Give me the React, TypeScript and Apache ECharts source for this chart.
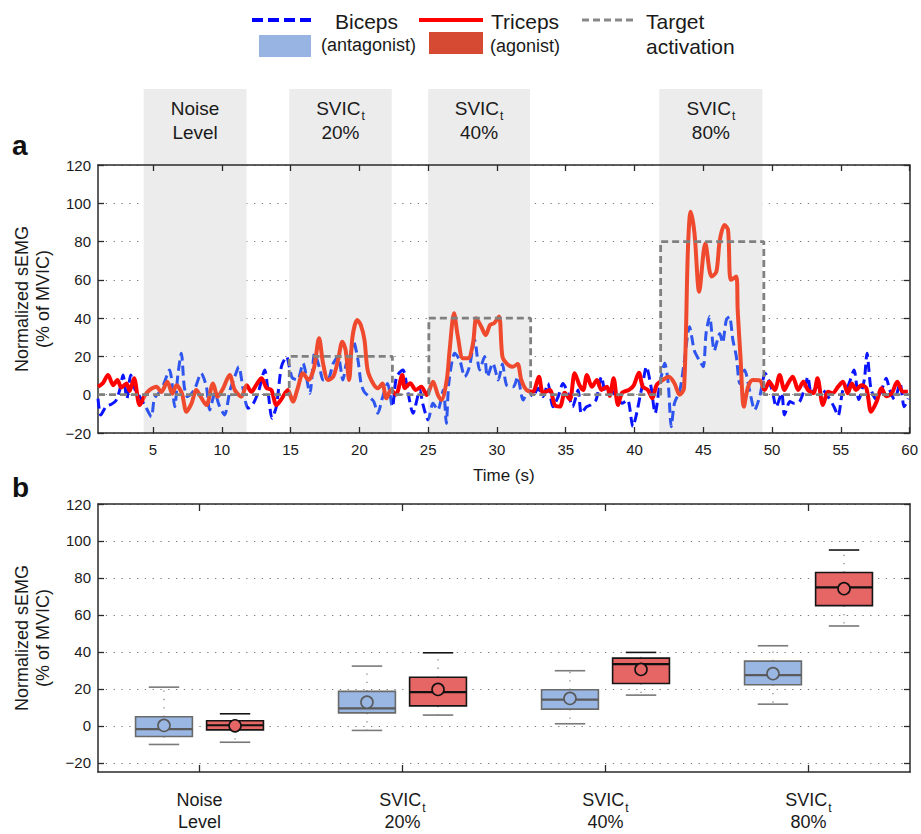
import React, { useEffect, useRef } from 'react';
import * as echarts from 'echarts';

// ---------- DATA ----------
const regionStart = [4.32, 14.9, 25.0, 41.8];
const regionEnd = [11.8, 22.35, 32.4, 49.3];
const labelLine1 = ['Noise', 'SVIC', 'SVIC', 'SVIC'];
const labelSub = ['', 't', 't', 't'];
const labelLine2 = ['Level', '20%', '40%', '80%'];

const targetX = [1, 14.9, 14.9, 22.4, 22.4, 25.05, 25.05, 32.45, 32.45, 41.9, 41.9, 49.4, 49.4, 60];
const targetY = [0, 0, 20, 20, 0, 0, 40, 40, 0, 0, 80, 80, 0, 0];

const tricepsX = [1.0, 1.35, 1.73, 2.1, 2.41, 2.7, 3.07, 3.3, 3.62, 4.03, 4.4, 4.76, 5.25, 5.6, 6.04, 6.4, 6.7, 7.1, 7.43, 7.8, 8.15, 8.46, 8.88, 9.36, 9.7, 10.1, 10.57, 10.94, 11.42, 11.8, 12.15, 12.5, 12.88, 13.25, 13.6, 13.97, 14.3, 14.8, 15.17, 15.5, 15.9, 16.3, 16.7, 17.07, 17.36, 17.72, 18.1, 18.45, 18.76, 19.0, 19.25, 19.5, 19.85, 20.1, 20.37, 20.6, 21.0, 21.35, 21.67, 21.96, 22.3, 22.65, 23.12, 23.3, 23.7, 24.1, 24.5, 24.9, 25.35, 25.7, 25.96, 26.35, 26.56, 26.88, 27.16, 27.53, 27.9, 28.26, 28.5, 28.86, 29.18, 29.5, 29.8, 30.15, 30.4, 30.75, 31.16, 31.5, 31.77, 32.14, 32.6, 33.05, 33.35, 33.84, 34.2, 34.57, 34.93, 35.3, 35.65, 36.0, 36.27, 36.54, 36.9, 37.27, 37.6, 38.0, 38.2, 38.48, 38.8, 39.1, 39.6, 39.95, 40.32, 40.6, 40.97, 41.3, 41.6, 42.06, 42.5, 42.9, 43.28, 43.6, 43.88, 44.08, 44.36, 44.7, 45.15, 45.6, 45.95, 46.2, 46.55, 46.8, 47.0, 47.4, 47.5, 47.7, 47.95, 48.25, 48.6, 49.1, 49.45, 49.8, 50.2, 50.55, 50.9, 51.16, 51.5, 51.9, 52.27, 52.6, 53.0, 53.3, 53.7, 54.07, 54.4, 54.8, 55.15, 55.5, 55.8, 56.1, 56.5, 56.85, 57.2, 57.6, 57.96, 58.3, 58.7, 59.1, 59.5, 59.87];
const tricepsY = [4.2, 6, 10.3, 5, 7.7, 3.8, 5.9, 2, 8.6, -5.4, -0.5, 2.5, 4.2, 1.4, 6.8, 0.5, 5, 0.6, -8.9, -4.5, 2.4, -1, -5.4, 5.9, -1, 3.4, 10.3, 2.5, -1, 4.9, 1.5, 5, 8.6, 3.5, 2.5, -5.4, -2.7, 2.5, -3.6, 3, 11.2, 7.7, 14, 29.5, 16.4, 7.7, 9.4, 18.1, 27.7, 23.3, 7.7, 30.3, 39, 36.5, 28.6, 12.9, 5.9, 3.4, 5.9, -1.9, 2.5, 0, 10.3, 3.4, 6, 2.5, 4.2, -0.2, 6.8, 0, -2.8, 7.7, 23.3, 42.5, 30.3, 19, 19, 26.9, 39.9, 35.5, 31.2, 36.5, 37.4, 40.8, 19.9, 16, 14.6, 16, 7.7, 2.5, 1.5, 9.4, 1, 2.5, -5.4, -6.2, 1, -2.5, 11.2, 5, 2.5, 10.3, 4.2, 7.7, 2.5, 4.2, -0.6, 8.6, -5.4, 1, 2.5, 5, 11.5, 4.2, 2.5, -1.9, 5, 7.7, 9.4, 6, 0, 3.4, 75.6, 95.6, 84.3, 53.8, 79.1, 61.7, 64.3, 80.8, 88.7, 86, 60, 61.7, 44, 20, -6.3, 4, 7.7, 7.5, 2.5, 6.8, 2.5, 10.3, 2.5, 5.9, 9.4, 2.5, 6.8, 2.5, 0.8, 8.6, -5.4, 1.5, 0.8, 4.2, 6.8, 0.8, 5.9, 2.5, 5, 3.4, -8.9, -3.6, 3.4, -0.8, 0.8, 6.8, 1.5, 1.5];

const bicepsX = [1.0, 1.2, 1.6, 1.97, 2.3, 2.58, 2.82, 3.1, 3.38, 3.7, 4.03, 4.4, 4.88, 5.1, 5.6, 6.2, 6.58, 6.8, 7.06, 7.27, 7.5, 8.0, 8.5, 8.88, 9.12, 9.5, 9.8, 10.2, 10.6, 10.94, 11.23, 11.56, 11.9, 12.3, 12.7, 13.12, 13.35, 13.65, 13.97, 14.33, 14.7, 15.1, 15.5, 15.9, 16.4, 16.75, 17.15, 17.36, 17.7, 18.1, 18.45, 18.8, 19.05, 19.3, 19.58, 19.9, 20.12, 20.35, 20.7, 21.05, 21.34, 21.7, 22.05, 22.4, 22.7, 23.17, 23.5, 23.9, 24.4, 24.6, 25.0, 25.35, 25.7, 26.1, 26.32, 26.5, 26.93, 27.3, 27.66, 28.0, 28.38, 28.74, 29.1, 29.3, 29.7, 30.1, 30.4, 30.7, 31.2, 31.5, 31.9, 32.3, 32.6, 33.0, 33.35, 33.7, 34.07, 34.45, 34.8, 35.2, 35.5, 35.9, 36.13, 36.5, 36.8, 37.2, 37.6, 37.9, 38.3, 38.65, 39.1, 39.5, 39.88, 40.1, 40.4, 40.6, 40.86, 41.2, 41.5, 41.85, 42.2, 42.45, 42.67, 42.9, 43.3, 43.6, 44.0, 44.35, 44.7, 45.0, 45.2, 45.46, 45.8, 46.2, 46.4, 46.67, 46.9, 47.15, 47.4, 47.65, 48.0, 48.4, 48.73, 49.1, 49.5, 50.0, 50.3, 50.7, 50.9, 51.3, 51.6, 52.0, 52.4, 52.6, 52.85, 53.3, 53.7, 54.07, 54.5, 54.8, 55.15, 55.5, 55.96, 56.3, 56.7, 56.9, 57.2, 57.6, 57.96, 58.3, 58.55, 58.9, 59.3, 59.6, 59.9];
const bicepsY = [-2, -10.6, -6, -5, -3.2, 2.5, 10.3, -2, 10.3, 2.5, -1, -5.4, -11.5, -2, 2.5, 12.9, -6.3, 10, 21.6, 4.2, -1, 2.5, 11.2, 4.2, -8, 0.8, -5.4, -10.6, 2.5, 9.4, 14.6, 2.5, -7.1, -4.5, 2.5, 12.9, 2.5, -12.3, -6, 14.6, 19.9, 9, 7.7, 16.4, 0.7, 21.6, 12.9, 7.7, 7.7, 16.4, 19.9, 7.7, 16.4, 19.9, 27.7, 18, 5.9, 1.5, -1, -3.6, -9.7, -1, 5.9, -6.3, 9.4, 12.9, 2.5, -9.7, 2.5, -4.5, -13.2, -4.5, -8, 2.5, -15, 6, 21.6, 18, 9.4, 14.6, 28.6, 12.9, 19.9, 9.4, 16.4, 7.7, 16, 5, 4.2, 9.4, -2.8, 2.5, -1, 3.4, -1, 5.9, -6.3, -1, 5.9, 0, -6.3, 2.5, -9.7, -6.3, -5.4, -2.8, 9.4, 1, 2.5, -1, -4.5, -2.8, -16.7, -11.5, -1, 5.9, 14.6, 4.2, -9.7, 5.9, 16.4, 5.9, -16.7, -4.5, 2.5, 16.4, 35.5, 23, 18, 14.6, 32, 40.8, 23, 32, 27, 39, 40.8, 28.6, 20, 5.9, 12.9, 1, -8, -1, 11.2, 2.5, -6.3, 0.8, -10.6, -3.6, -4.5, -3.6, 4.2, 9.4, 0.8, 4.2, 2.5, -1, -6.3, -11, 2.5, 4.2, 12.9, -2.5, 7.7, 21.6, 2.5, -2.5, 2.5, 8.6, 2.5, -2.5, 5.9, -6.3, -2];

const xTicksA = [5, 10, 15, 20, 25, 30, 35, 40, 45, 50, 55, 60];
const yTicksB = [-20, 0, 20, 40, 60, 80, 100, 120];

const bicepsLow = [-10.1, -2.5, 1.1, 11.7];
const bicepsQ1 = [-5.8, 7.0, 9.0, 22.2];
const bicepsMed = [-1.8, 9.4, 14.2, 27.4];
const bicepsQ3 = [4.9, 18.6, 19.5, 35.0];
const bicepsHigh = [20.9, 32.3, 29.8, 43.3];
const bicepsMean = [0.2, 12.8, 14.8, 28.2];

const tricepsLow = [-8.9, 5.8, 16.6, 54.0];
const tricepsQ1 = [-2.2, 10.8, 22.9, 65.0];
const tricepsMed = [0.3, 18.2, 33.4, 74.9];
const tricepsQ3 = [2.7, 26.3, 36.6, 82.9];
const tricepsHigh = [6.5, 39.5, 39.7, 95.1];
const tricepsMean = [0.0, 19.7, 30.5, 74.2];

// ---------- STYLE ----------
const FF = "'Liberation Sans', Arial, Helvetica, sans-serif";
const TXT = '#1a1a1a';
const AXC = '#2a2a2a';
const RED_OUT = '#ff0000';
const RED_IN = '#ef4a2e';
const BLUE_OUT = '#0a14ff';
const BLUE_IN = '#2e55ee';
const SHADE = '#ececec';

function buildPieces(outC: string, inC: string) {
  const pieces: any[] = [{ lt: regionStart[0], color: outC }];
  regionStart.forEach((s, i) => {
    pieces.push({ gte: s, lt: regionEnd[i], color: inC });
    if (i < regionStart.length - 1) pieces.push({ gte: regionEnd[i], lt: regionStart[i + 1], color: outC });
    else pieces.push({ gte: regionEnd[i], color: outC });
  });
  return pieces;
}

const zip = (xs: number[], ys: number[]) => xs.map((x, i) => [x, ys[i]]);
const minus = (v: number) => (v < 0 ? '\u2212' + Math.abs(v) : String(v));

let measureCtx: CanvasRenderingContext2D | null = null;
function textWidth(t: string, font: string) {
  if (!measureCtx) measureCtx = document.createElement('canvas').getContext('2d');
  if (!measureCtx) return t.length * 10;
  measureCtx.font = font;
  return measureCtx.measureText(t).width;
}

// two-line label with optional subscript, centred at cx
function labelElements(i: number, cx: number, y1: number, y2: number, size: number) {
  const fontM = `${size}px ${FF}`;
  const fontS = `${Math.round(size * 0.64)}px ${FF}`;
  const els: any[] = [];
  if (labelSub[i]) {
    const wM = textWidth(labelLine1[i], fontM);
    const wS = textWidth(labelSub[i], fontS);
    const x0 = cx - (wM + wS + 1) / 2;
    els.push({ type: 'text', style: { text: labelLine1[i], x: x0, y: y1, font: fontM, fill: TXT, align: 'left', verticalAlign: 'middle' } });
    els.push({ type: 'text', style: { text: labelSub[i], x: x0 + wM + 1, y: y1 + size * 0.42, font: fontS, fill: TXT, align: 'left', verticalAlign: 'middle' } });
  } else {
    els.push({ type: 'text', style: { text: labelLine1[i], x: cx, y: y1, font: fontM, fill: TXT, align: 'center', verticalAlign: 'middle' } });
  }
  els.push({ type: 'text', style: { text: labelLine2[i], x: cx, y: y2, font: fontM, fill: TXT, align: 'center', verticalAlign: 'middle' } });
  return els;
}

function makeBoxSeries(
  low: number[], q1: number[], med: number[], q3: number[], high: number[], mean: number[],
  offset: number, fill: string, stroke: string, medColor: string, topCap: string, botCap: string, z: number
) {
  return {
    type: 'custom',
    xAxisIndex: 2,
    yAxisIndex: 2,
    z,
    silent: true,
    data: low.map((_, i) => [i, low[i], q1[i], med[i], q3[i], high[i], mean[i]]),
    encode: { x: 0, y: [1, 2, 3, 4, 5, 6] },
    renderItem: (params: any, api: any) => {
      const ci = api.value(0);
      const band = api.size([1, 0])[0];
      const cx = api.coord([ci, 0])[0] + offset * band;
      const Y = (v: number) => api.coord([ci, v])[1];
      const hw = 0.14 * band;
      const cw = 0.075 * band;
      const yl = Y(api.value(1));
      const yq1 = Y(api.value(2));
      const ym = Y(api.value(3));
      const yq3 = Y(api.value(4));
      const yh = Y(api.value(5));
      const ymean = Y(api.value(6));
      const dot = { stroke: '#8a8a8a', lineWidth: 1.3, lineDash: [1.3, 7] };
      return {
        type: 'group',
        children: [
          { type: 'line', shape: { x1: cx, y1: yq3, x2: cx, y2: yh }, style: dot },
          { type: 'line', shape: { x1: cx, y1: yq1, x2: cx, y2: yl }, style: dot },
          { type: 'line', shape: { x1: cx - cw, y1: yh, x2: cx + cw, y2: yh }, style: { stroke: topCap, lineWidth: 1.6 } },
          { type: 'line', shape: { x1: cx - cw, y1: yl, x2: cx + cw, y2: yl }, style: { stroke: botCap, lineWidth: 1.6 } },
          { type: 'rect', shape: { x: cx - hw, y: yq3, width: 2 * hw, height: yq1 - yq3 }, style: { fill, stroke, lineWidth: 1.6 } },
          { type: 'line', shape: { x1: cx - hw, y1: ym, x2: cx + hw, y2: ym }, style: { stroke: medColor, lineWidth: 2.2 } },
          { type: 'circle', shape: { cx, cy: ymean, r: 6 }, style: { fill, stroke: medColor, lineWidth: 1.6 } },
        ],
      };
    },
  };
}

const axisLabelBase = { color: TXT, fontFamily: FF, fontSize: 15 };
const axLine = { show: true, onZero: false, lineStyle: { color: AXC, width: 1.5 } };

const option: any = {
  animation: false,
  backgroundColor: '#ffffff',
  grid: [
    { left: 98, top: 165, width: 812, height: 268 },
    { left: 98, top: 504, width: 812, height: 268 },
  ],
  xAxis: [
    {
      type: 'value', gridIndex: 0, min: 1, max: 60, position: 'bottom',
      axisLine: axLine,
      axisTick: { show: true, inside: true, length: 6, customValues: xTicksA, lineStyle: { color: AXC, width: 1.3 } },
      axisLabel: { ...axisLabelBase, margin: 9, customValues: xTicksA },
      splitLine: { show: false },
      name: 'Time (s)', nameLocation: 'middle', nameGap: 34,
      nameTextStyle: { color: TXT, fontFamily: FF, fontSize: 17 },
    },
    {
      type: 'value', gridIndex: 0, min: 1, max: 60, position: 'top',
      axisLine: axLine,
      axisTick: { show: true, inside: true, length: 6, customValues: xTicksA, lineStyle: { color: AXC, width: 1.3 } },
      axisLabel: { show: false },
      splitLine: { show: false },
    },
    {
      type: 'category', gridIndex: 1, position: 'bottom', data: labelLine2,
      axisLine: axLine,
      axisTick: { show: true, inside: true, alignWithLabel: true, length: 7, lineStyle: { color: AXC, width: 1.3 } },
      axisLabel: { show: false },
      splitLine: { show: false },
    },
    {
      type: 'category', gridIndex: 1, position: 'top', data: labelLine2,
      axisLine: axLine,
      axisTick: { show: true, inside: true, alignWithLabel: true, length: 7, lineStyle: { color: AXC, width: 1.3 } },
      axisLabel: { show: false },
      splitLine: { show: false },
    },
  ],
  yAxis: [
    {
      type: 'value', gridIndex: 0, min: -20, max: 120, interval: 20, position: 'left',
      axisLine: axLine,
      axisTick: { show: true, inside: true, length: 6, lineStyle: { color: AXC, width: 1.3 } },
      axisLabel: { ...axisLabelBase, margin: 7, formatter: (v: number) => minus(v) },
      splitLine: { show: true, lineStyle: { color: '#7a7a7a', width: 1.2, type: [1.3, 6.5] } },
      name: 'Normalized sEMG\n(% of MVIC)', nameLocation: 'middle', nameGap: 45,
      nameTextStyle: { color: TXT, fontFamily: FF, fontSize: 18, lineHeight: 21 },
    },
    {
      type: 'value', gridIndex: 0, min: -20, max: 120, interval: 20, position: 'right',
      axisLine: axLine,
      axisTick: { show: true, inside: true, length: 6, lineStyle: { color: AXC, width: 1.3 } },
      axisLabel: { show: false },
      splitLine: { show: false },
    },
    {
      type: 'value', gridIndex: 1, min: -25, max: 120, position: 'left',
      axisLine: axLine,
      axisTick: { show: true, inside: true, length: 6, customValues: yTicksB, lineStyle: { color: AXC, width: 1.3 } },
      axisLabel: { ...axisLabelBase, margin: 7, customValues: yTicksB, formatter: (v: number) => minus(v) },
      splitLine: { show: true, lineStyle: { color: '#7a7a7a', width: 1.2, type: [1.3, 6.5] } },
      name: 'Normalized sEMG\n(% of MVIC)', nameLocation: 'middle', nameGap: 45,
      nameTextStyle: { color: TXT, fontFamily: FF, fontSize: 18, lineHeight: 21 },
    },
    {
      type: 'value', gridIndex: 1, min: -25, max: 120, position: 'right',
      axisLine: axLine,
      axisTick: { show: true, inside: true, length: 6, customValues: yTicksB, lineStyle: { color: AXC, width: 1.3 } },
      axisLabel: { show: false },
      splitLine: { show: false },
    },
  ],
  visualMap: [
    { type: 'piecewise', show: false, dimension: 0, seriesIndex: 1, pieces: buildPieces(BLUE_OUT, BLUE_IN) },
    { type: 'piecewise', show: false, dimension: 0, seriesIndex: 2, pieces: buildPieces(RED_OUT, RED_IN) },
  ],
  series: [
    {
      type: 'custom',
      xAxisIndex: 0,
      yAxisIndex: 0,
      clip: false,
      silent: true,
      z: 0,
      data: regionStart.map((s, i) => [s, regionEnd[i]]),
      encode: { x: [0, 1] },
      renderItem: (params: any, api: any) => {
        const i = params.dataIndex;
        const p0 = api.coord([api.value(0), -20]);
        const p1 = api.coord([api.value(1), -20]);
        const top = 89;
        const cx = (p0[0] + p1[0]) / 2;
        return {
          type: 'group',
          children: [
            { type: 'rect', shape: { x: p0[0], y: top, width: p1[0] - p0[0], height: p0[1] - top }, style: { fill: SHADE } },
            ...labelElements(i, cx, 108, 132, 19),
          ],
        };
      },
    },
    {
      type: 'line', xAxisIndex: 0, yAxisIndex: 0, z: 2,
      data: zip(bicepsX, bicepsY), showSymbol: false, smooth: 0.25,
      lineStyle: { width: 3, type: [10, 5] },
    },
    {
      type: 'line', xAxisIndex: 0, yAxisIndex: 0, z: 3,
      data: zip(tricepsX, tricepsY), showSymbol: false, smooth: 0.3,
      lineStyle: { width: 4 },
    },
    {
      type: 'line', xAxisIndex: 0, yAxisIndex: 0, z: 4,
      data: zip(targetX, targetY), showSymbol: false,
      lineStyle: { width: 2.8, color: '#808080', type: [7, 4] },
      itemStyle: { color: '#808080' },
    },
    makeBoxSeries(bicepsLow, bicepsQ1, bicepsMed, bicepsQ3, bicepsHigh, bicepsMean, -0.175,
      '#9ab6e3', '#6a6a6a', '#5a5a5a', '#7a7a7a', '#7a7a7a', 5),
    makeBoxSeries(tricepsLow, tricepsQ1, tricepsMed, tricepsQ3, tricepsHigh, tricepsMean, 0.175,
      '#e66565', '#151515', '#111111', '#151515', '#777777', 5),
    {
      // category labels of panel b, placed under each category centre
      type: 'custom',
      xAxisIndex: 2,
      yAxisIndex: 2,
      clip: false,
      silent: true,
      data: labelLine1.map((_, i) => [i, -25]),
      encode: { x: 0, y: 1 },
      renderItem: (params: any, api: any) => {
        const i = params.dataIndex;
        const p = api.coord([api.value(0), api.value(1)]);
        return { type: 'group', children: labelElements(i, p[0], p[1] + 28, p[1] + 50, 18) };
      },
    },
  ],
  graphic: [
    { type: 'line', shape: { x1: 252, y1: 20, x2: 316, y2: 20 }, style: { stroke: '#0000ff', lineWidth: 4, lineDash: [11, 5] } },
    { type: 'text', x: 335, y: 21, style: { text: 'Biceps', font: `21px ${FF}`, fill: TXT, verticalAlign: 'middle' } },
    { type: 'line', shape: { x1: 419, y1: 20, x2: 483, y2: 20 }, style: { stroke: '#ff0000', lineWidth: 4 } },
    { type: 'text', x: 491, y: 21, style: { text: 'Triceps', font: `21px ${FF}`, fill: TXT, verticalAlign: 'middle' } },
    { type: 'line', shape: { x1: 582, y1: 20, x2: 634, y2: 20 }, style: { stroke: '#888888', lineWidth: 3, lineDash: [7, 4] } },
    { type: 'text', x: 646, y: 21, style: { text: 'Target', font: `21px ${FF}`, fill: TXT, verticalAlign: 'middle' } },
    { type: 'text', x: 646, y: 46, style: { text: 'activation', font: `21px ${FF}`, fill: TXT, verticalAlign: 'middle' } },
    { type: 'rect', shape: { x: 259, y: 35, width: 52, height: 22 }, style: { fill: '#98b4e2' } },
    { type: 'text', x: 321, y: 45, style: { text: '(antagonist)', font: `18px ${FF}`, fill: TXT, verticalAlign: 'middle' } },
    { type: 'rect', shape: { x: 429, y: 32, width: 54, height: 22 }, style: { fill: '#d64a33' } },
    { type: 'text', x: 490, y: 46, style: { text: '(agonist)', font: `18px ${FF}`, fill: TXT, verticalAlign: 'middle' } },
    { type: 'text', x: 12, y: 145, style: { text: 'a', font: `bold 28px ${FF}`, fill: '#111', verticalAlign: 'middle' } },
    { type: 'text', x: 12, y: 487, style: { text: 'b', font: `bold 28px ${FF}`, fill: '#111', verticalAlign: 'middle' } },
  ],
};

export default function App() {
  const ref = useRef<HTMLDivElement>(null);
  useEffect(() => {
    if (!ref.current) return;
    const chart = echarts.init(ref.current, undefined, { renderer: 'svg' });
    chart.setOption(option);
    return () => chart.dispose();
  }, []);
  return (
    <div
      ref={ref}
      style={{ position: 'fixed', left: 0, top: 0, width: 921, height: 834, background: '#ffffff' }}
    />
  );
}
